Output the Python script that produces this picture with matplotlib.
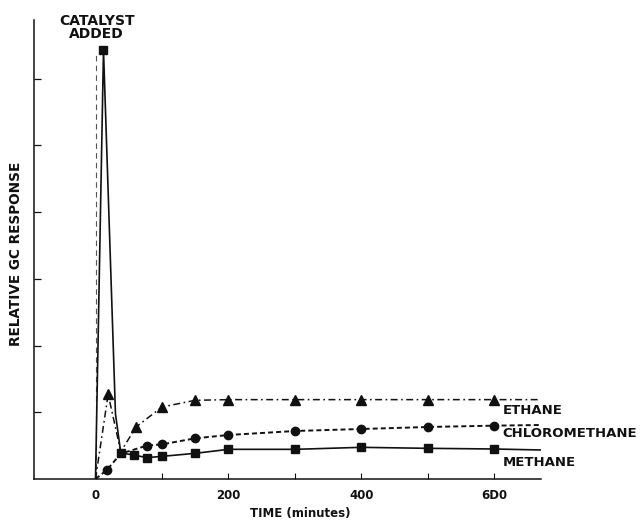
import matplotlib
matplotlib.use("Agg")
import matplotlib.pyplot as plt

plt.rcParams.update({
    "font.family": "DejaVu Sans",
    "lines.scale_dashes": False,
})
INK = "#111111"

# time (minutes) and relative GC response
methane_t = [0, 12, 30, 38, 58, 77, 100, 150, 200, 300, 400, 500, 600, 670]
methane_y = [0, 6.43, 0.98, 0.39, 0.36, 0.32, 0.34, 0.385, 0.445, 0.445, 0.475, 0.46, 0.45, 0.435]
methane_marks = [1, 3, 4, 5, 6, 7, 8, 9, 10, 11, 12]

ethane_t = [0, 19, 38, 61, 100, 150, 200, 300, 400, 500, 600, 670]
ethane_y = [0, 1.27, 0.41, 0.78, 1.08, 1.18, 1.19, 1.19, 1.19, 1.19, 1.19, 1.19]
ethane_marks = [1, 3, 4, 5, 6, 7, 8, 9, 10]

chloro_t = [0, 17, 38, 77, 100, 150, 200, 300, 400, 500, 600, 670]
chloro_y = [0, 0.135, 0.38, 0.5, 0.52, 0.61, 0.66, 0.72, 0.75, 0.78, 0.80, 0.81]
chloro_marks = [1, 3, 4, 5, 6, 7, 8, 9, 10]

series_names = ["ETHANE", "CHLOROMETHANE", "METHANE"]
series_label_y = [1.03, 0.675, 0.245]

x_major = [0, 200, 400, 600]
x_major_labels = ["0", "200", "400", "6D0"]
x_minor = [100, 300, 500]
y_ticks = [1, 2, 3, 4, 5, 6]

fig = plt.figure(figsize=(6.44, 5.2), dpi=100)
ax = fig.add_axes([0.0528, 0.0788, 0.7873, 0.8827])

# catalyst addition marker
ax.plot([0, 0], [0, 6.4], color="#555555", lw=0.8, dashes=(4, 3))

ax.plot(ethane_t, ethane_y, color=INK, lw=1.1, dashes=(5, 2.5, 1.2, 2.5),
        marker="^", ms=6.5, markevery=ethane_marks)
ax.plot(chloro_t, chloro_y, color=INK, lw=1.4, dashes=(3.6, 2.2),
        marker="o", ms=6, markevery=chloro_marks)
ax.plot(methane_t, methane_y, color=INK, lw=1.2,
        marker="s", ms=6, markevery=methane_marks)

for name, yy in zip(series_names, series_label_y):
    ax.text(612, yy, name, ha="left", va="center", fontsize=9.5,
            fontweight="bold", color=INK)

ax.text(1.8, 6.77, "CATALYST\nADDED", ha="center", va="center", fontsize=10,
        fontweight="bold", color=INK, linespacing=0.95)

ax.set_xlim(-92.5, 670)
ax.set_ylim(0, 6.88)
ax.set_xticks(x_major)
ax.set_xticklabels(x_major_labels, fontsize=8.5, fontweight="bold", color=INK)
ax.set_xticks(x_minor, minor=True)
ax.set_yticks(y_ticks)
ax.set_yticklabels([])
ax.tick_params(axis="x", which="both", direction="in", length=4, width=0.8,
               pad=7, colors=INK)
ax.tick_params(axis="y", direction="in", length=5, width=0.9, colors=INK)

ax.set_xlabel("TIME (minutes)", fontsize=8.5, fontweight="bold", color=INK)
ax.xaxis.set_label_coords(0.525, -0.061)
ax.set_ylabel("RELATIVE GC RESPONSE", fontsize=9.8, fontweight="bold", color=INK)
ax.yaxis.set_label_coords(-0.022, 0.49)

for side in ["top", "right"]:
    ax.spines[side].set_visible(False)
for side in ["left", "bottom"]:
    ax.spines[side].set_color(INK)
    ax.spines[side].set_linewidth(1.1)

fig.savefig("out.png", dpi=100)
